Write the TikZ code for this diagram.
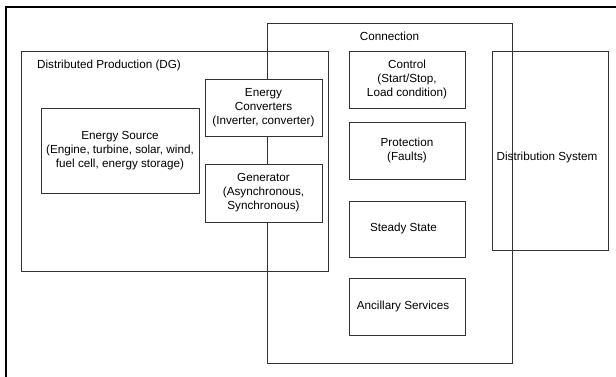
\documentclass[tikz,border=0pt]{standalone}
\usepackage{fontspec}
\setmainfont{Liberation Sans}
\begin{document}
\begin{tikzpicture}[x=1pt,y=-1pt,
  box/.style={draw=black!80, line width=0.9pt, align=center, inner sep=0pt, font=\fontsize{11.7}{14}\selectfont},
  fbox/.style={box, fill=white},
  lbl/.style={inner sep=0pt, font=\fontsize{11.7}{14}\selectfont}]
\useasboundingbox (0,0) rectangle (616,376);
% outer frame (right and bottom edges lie outside the picture)
\draw[line width=2pt] (6,380) -- (6,7) -- (620,7);
% Connection
\node[box, minimum width=245pt, minimum height=340pt] (conn) at (389.5,193) {};
\node[lbl] (connlbl) at (389.5,36) {Connection};
% Distributed Production
\node[box, minimum width=307pt, minimum height=220pt] (dg) at (174.5,161) {};
\node[lbl, anchor=west] (dglbl) at (37,65) {Distributed Production (DG)};
% DG inner
\node[fbox, minimum width=158pt, minimum height=85pt] (src) at (120,150.5) {Energy Source\\(Engine, turbine, solar, wind,\\fuel cell, energy storage)};
\node[fbox, minimum width=117pt, minimum height=57pt] (conv) at (263.5,107.5) {Energy\\Converters\\(Inverter, converter)};
\node[fbox, minimum width=117pt, minimum height=58pt] (gen) at (263.5,193) {Generator\\(Asynchronous,\\Synchronous)};
% Connection inner
\node[fbox, minimum width=116pt, minimum height=57pt] (ctrl) at (407,79.5) {Control\\(Start/Stop,\\Load condition)};
\node[fbox, minimum width=116pt, minimum height=57pt] (prot) at (407,150.5) {Protection\\(Faults)};
\node[fbox, minimum width=116pt, minimum height=56pt] (ss) at (407,229) {};
\node[lbl] (sslbl) at (403.5,228.5) {Steady State};
\node[fbox, minimum width=116pt, minimum height=57pt] (anc) at (407,306.5) {};
\node[lbl] (anclbl) at (403,306) {Ancillary Services};
% Distribution system
\node[box, minimum width=116pt, minimum height=199pt] (dist) at (550,150.5) {};
\node[lbl] (distlbl) at (547,157) {Distribution System};
\end{tikzpicture}
\end{document}
